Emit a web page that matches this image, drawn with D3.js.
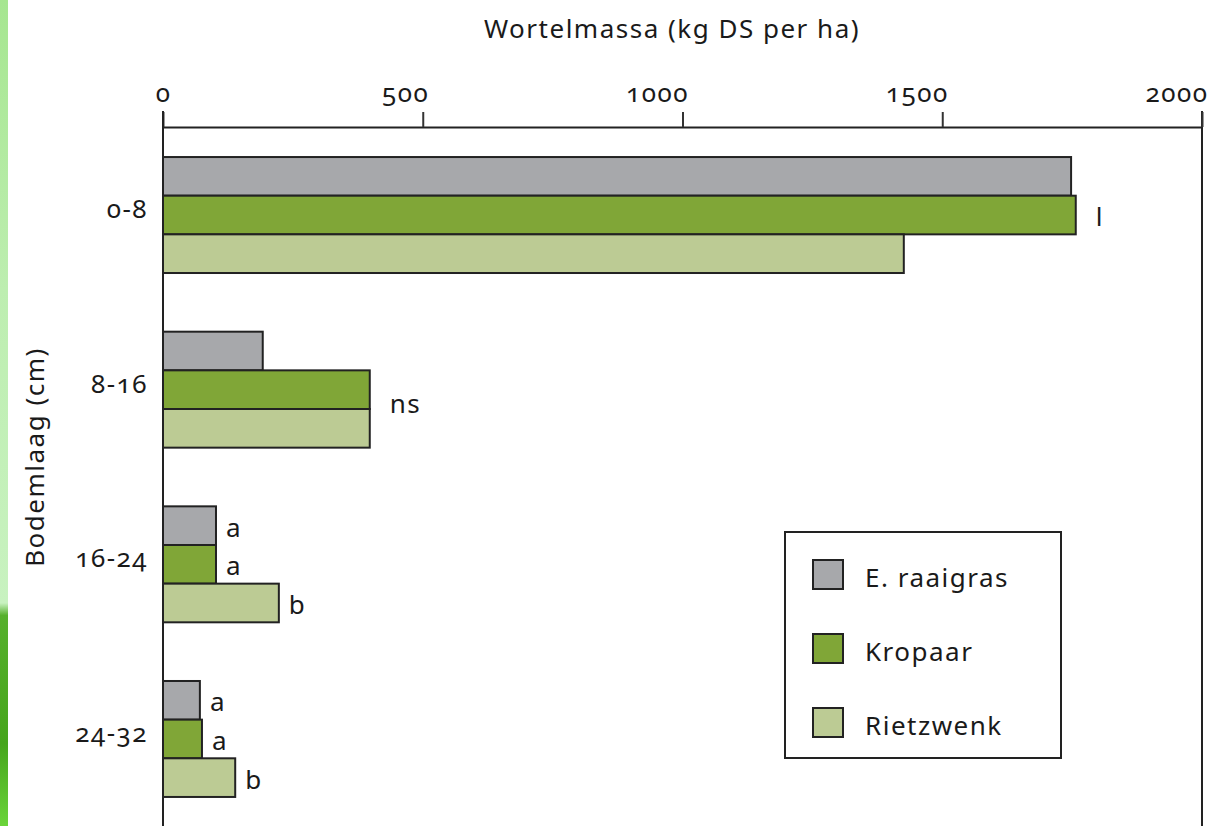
<!DOCTYPE html>
<html>
<head>
<meta charset="utf-8">
<script src="https://cdn.jsdelivr.net/npm/d3@7"></script>
<style>
  html, body { margin: 0; padding: 0; background: #fff; }
  svg { display: block; }
  text { font-family: "Noto Sans", "Open Sans", sans-serif; fill: #1a1a1a; font-feature-settings: "onum" 1; letter-spacing: 1.5px; }
</style>
</head>
<body>
<div id="chart"></div>
<script>
// Soil layers and species
const layers = ['0-8', '8-16', '16-24', '24-32'];
const species = ['E. raaigras', 'Kropaar', 'Rietzwenk'];
const speciesColors = ['#a7a8ab', '#80a637', '#bccb94'];

// Root mass (kg DS per ha), one array per species, ordered like layers
const raaigras = [1748, 192, 102, 71];
const kropaar = [1757, 398, 102, 75];
const rietzwenk = [1426, 398, 223, 139];

// Significance letters per bar ('' = none), ordered like layers
const letRaaigras = ['', '', 'a', 'a'];
const letKropaar = ['l', 'ns', 'a', 'a'];
const letRietzwenk = ['', '', 'b', 'b'];

const xTicks = [0, 500, 1000, 1500, 2000];

const W = 1207, H = 826;
const svg = d3.select('#chart').append('svg').attr('width', W).attr('height', H);

// Decorative green strip on the left edge
const grad = svg.append('defs').append('linearGradient')
  .attr('id', 'strip').attr('x1', 0).attr('y1', 0).attr('x2', 0).attr('y2', 1);
[[0, '#a6e690'], [0.35, '#bdeeb0'], [0.73, '#c8f2c0'], [0.745, '#56b02c'],
 [0.9, '#46a51c'], [1, '#6ad43a']].forEach(([o, c]) =>
  grad.append('stop').attr('offset', o).attr('stop-color', c));
svg.append('rect').attr('x', 0).attr('y', 0).attr('width', 8).attr('height', H).attr('fill', 'url(#strip)');

const axisY = 127;
const x = d3.scaleLinear().domain([0, 2000]).range([163, 1202]);
const y = d3.scaleBand().domain(layers).range([axisY, 827]).paddingInner(0.336).paddingOuter(0.172);
const ySub = d3.scaleBand().domain(species).range([0, y.bandwidth()]);

const series = [
  { name: species[0], values: raaigras, letters: letRaaigras, color: speciesColors[0] },
  { name: species[1], values: kropaar, letters: letKropaar, color: speciesColors[1] },
  { name: species[2], values: rietzwenk, letters: letRietzwenk, color: speciesColors[2] }
];

// Right edge line
svg.append('line')
  .attr('x1', x(2000)).attr('x2', x(2000))
  .attr('y1', axisY - 16).attr('y2', H)
  .attr('stroke', '#222').attr('stroke-width', 2);

// Top axis
const gx = svg.append('g').attr('transform', `translate(0,${axisY})`)
  .call(d3.axisTop(x).tickValues(xTicks).tickFormat(d3.format('d'))
    .tickSize(15).tickSizeOuter(0).tickPadding(10));
gx.select('.domain').attr('stroke', '#222').attr('stroke-width', 2);
gx.selectAll('.tick line').attr('stroke', '#333').attr('stroke-width', 2);
gx.selectAll('.tick text')
  .attr('font-size', 26).attr('font-family', null)
  .attr('text-anchor', d => d === 0 ? 'middle' : 'end')
  .attr('x', d => d === 0 ? 0 : 6)
  .style('fill', '#1a1a1a');

// Bars
const groups = svg.append('g').selectAll('g.layer')
  .data(layers)
  .join('g')
  .attr('class', 'layer')
  .attr('transform', d => `translate(0,${y(d)})`);

series.forEach(s => {
  groups.append('rect')
    .attr('x', x(0))
    .attr('y', ySub(s.name))
    .attr('width', (_, i) => x(s.values[i]) - x(0))
    .attr('height', ySub.bandwidth())
    .attr('fill', s.color)
    .attr('stroke', '#222')
    .attr('stroke-width', 2);

  // letters for the deeper layers sit close to the bar, the upper ones a bit further
  groups.append('text')
    .attr('x', (_, i) => x(s.values[i]) + (i < 2 ? 20 : 10))
    .attr('y', (_, i) => ySub(s.name) + ySub.bandwidth() / 2 + (i === 1 ? 14 : 2))
    .attr('dy', '0.35em')
    .attr('font-size', 26)
    .text((_, i) => s.letters[i]);
});

// Left axis line on top of bar strokes
svg.append('line')
  .attr('x1', x(0)).attr('x2', x(0)).attr('y1', axisY - 16).attr('y2', H)
  .attr('stroke', '#222').attr('stroke-width', 2);

// Layer labels
svg.append('g').selectAll('text')
  .data(layers)
  .join('text')
  .attr('x', 148)
  .attr('y', d => y(d) + y.bandwidth() / 2 - 6)
  .attr('dy', '0.35em')
  .attr('text-anchor', 'end')
  .attr('font-size', 26)
  .text(d => d);

// Axis titles
svg.append('text')
  .attr('x', 672).attr('y', 38)
  .attr('text-anchor', 'middle')
  .attr('font-size', 26)
  .text('Wortelmassa (kg DS per ha)');

svg.append('text')
  .attr('transform', 'translate(44,457) rotate(-90)')
  .attr('text-anchor', 'middle')
  .attr('font-size', 26)
  .text('Bodemlaag (cm)');

// Legend
const legend = svg.append('g').attr('transform', 'translate(785,532)');
legend.append('rect')
  .attr('width', 276).attr('height', 226)
  .attr('fill', '#fff').attr('stroke', '#222').attr('stroke-width', 2);

const li = legend.selectAll('g.item')
  .data(series)
  .join('g')
  .attr('class', 'item')
  .attr('transform', (_, i) => `translate(28,${28 + i * 74})`);

li.append('rect')
  .attr('width', 30).attr('height', 29)
  .attr('fill', d => d.color)
  .attr('stroke', '#222').attr('stroke-width', 2);

li.append('text')
  .attr('x', 52).attr('y', 17)
  .attr('dy', '0.38em')
  .attr('font-size', 26)
  .text(d => d.name);
</script>
</body>
</html>
